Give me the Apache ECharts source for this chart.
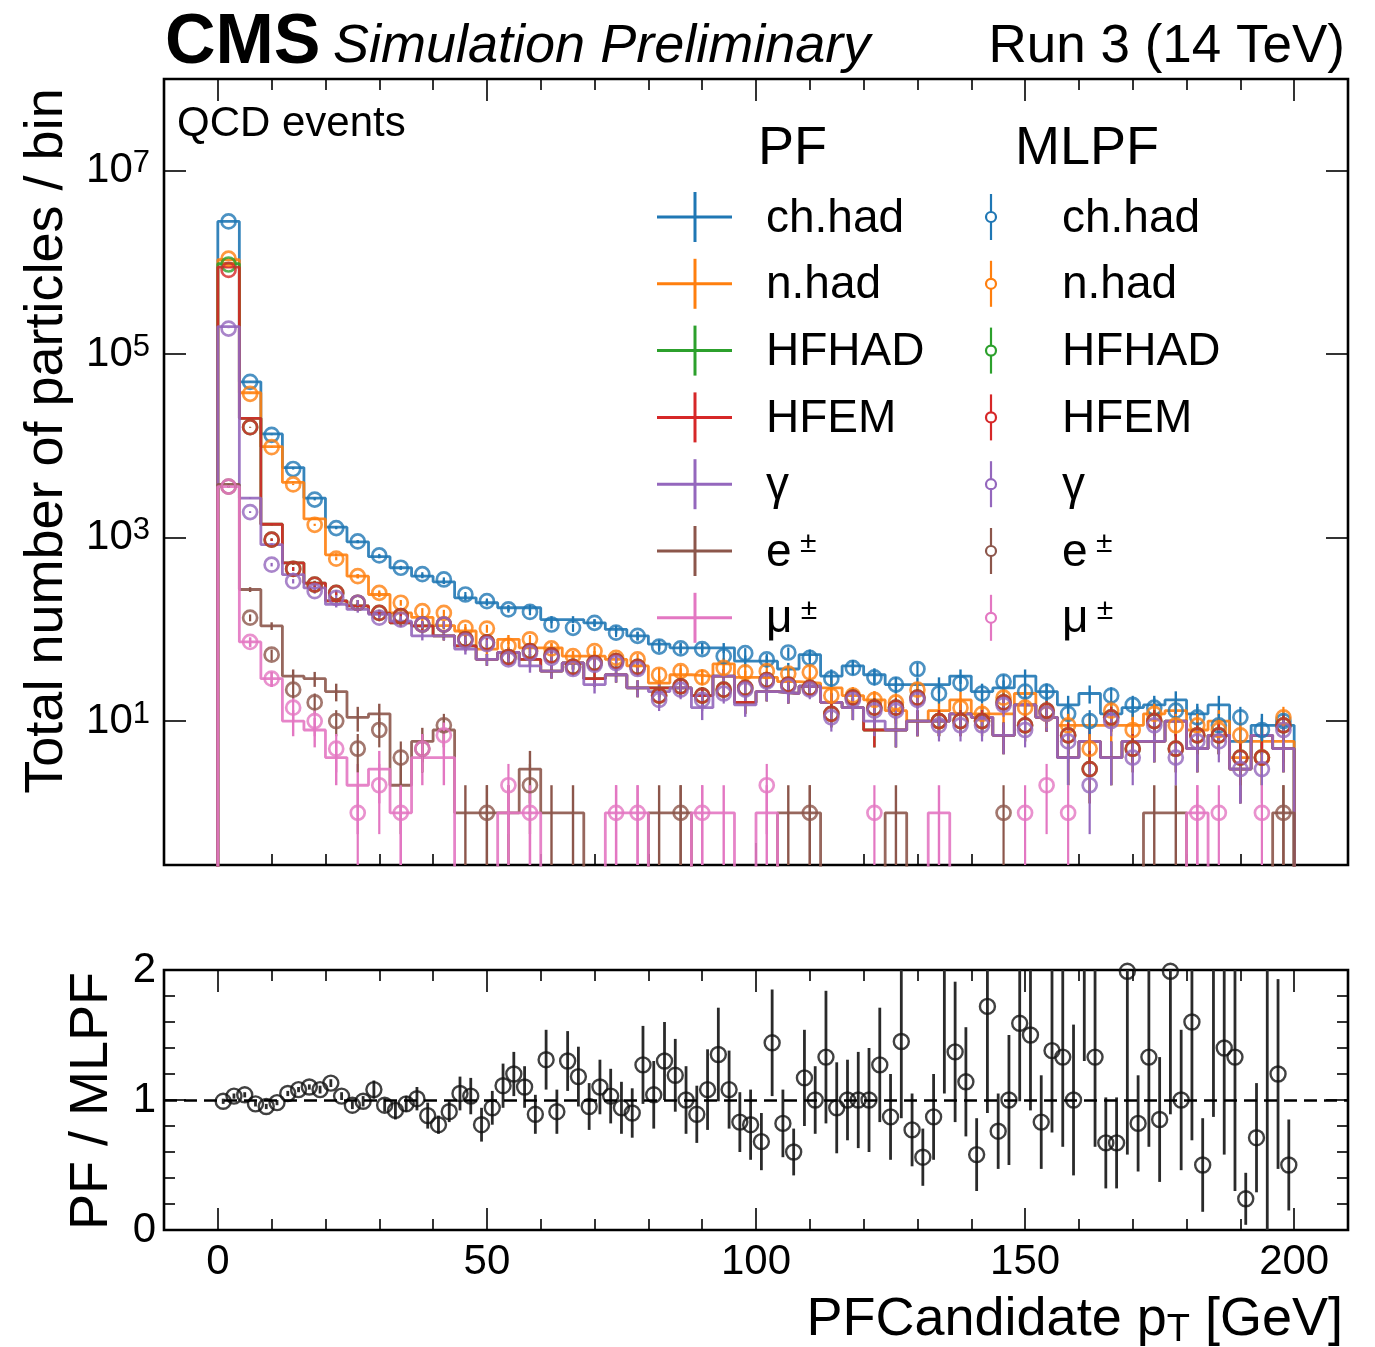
<!DOCTYPE html>
<html><head><meta charset="utf-8">
<script src="https://cdn.jsdelivr.net/npm/echarts@6/dist/echarts.min.js"></script>
<style>html,body{margin:0;padding:0;background:#fff}#c{width:1375px;height:1347px}</style>
</head><body><div id="c"></div>
<script>
// ---------------- data ----------------
const BIN_WIDTH = 4;
const binEdges = Array.from({length: 51}, (_, i) => i * BIN_WIDTH);
const binCenters = binEdges.slice(0, 50).map(e => e + BIN_WIDTH / 2);
const ratioCenters = Array.from({length: 100}, (_, k) => 2 * k + 1);

const speciesNames = ['ch.had', 'n.had', 'HFHAD', 'HFEM', 'γ', 'e±', 'μ±'];
const speciesColors = ['#1f77b4', '#ff7f0e', '#2ca02c', '#d62728', '#9467bd', '#8c564b', '#e377c2'];

// PF counts per 4 GeV bin
const pfChHad = [2.8e6, 5.0e4, 1.35e4, 5800, 2700, 1300, 900, 620, 470, 380,
  330, 221, 195, 172, 172, 128, 128, 118, 100, 85,
  69, 63, 63, 63, 45, 45, 37, 53, 31, 40,
  32, 25, 25, 25, 31, 21, 23, 31, 21, 15,
  20, 12, 14, 15, 17, 12, 15, 6, 9, 9];
const pfNHad = [1.07e6, 3.8e4, 9800, 4000, 1600, 650, 380, 240, 151, 135,
  110, 96, 61, 78, 63, 63, 51, 51, 47, 40,
  26, 32, 31, 42, 30, 30, 27, 26, 23, 19,
  17, 13, 10, 13, 17, 12, 12, 20, 11, 9,
  9, 9, 9, 12, 13, 8, 10, 4, 6, 6];
const pfHfHad = [9.7e5, 2.0e4, 1400, 530, 320, 205, 180, 150, 118, 109,
  85, 66, 47, 56, 47, 35, 43, 29, 32, 23,
  23, 23, 19, 31, 16, 21, 20, 24, 16, 14,
  8, 8, 10, 10, 12, 11, 7, 15, 11, 4,
  6, 4, 6, 6, 10, 5, 7, 3, 7, 5];
const pfHfEm = [8.9e5, 2.0e4, 1400, 530, 320, 205, 180, 150, 118, 109,
  85, 66, 47, 56, 47, 35, 43, 29, 32, 23,
  23, 23, 19, 31, 16, 21, 20, 24, 16, 14,
  8, 8, 10, 10, 12, 11, 7, 15, 11, 4,
  6, 4, 6, 6, 10, 5, 7, 3, 7, 5];
const pfGamma = [2.0e5, 2700, 840, 395, 283, 187, 165, 146, 123, 85,
  85, 61, 47, 56, 40, 35, 43, 25, 32, 23,
  21, 23, 14, 31, 15, 21, 20, 24, 16, 14,
  10, 8, 10, 10, 12, 11, 7, 15, 11, 4,
  6, 4, 6, 6, 10, 5, 7, 3, 7, 5];
const pfEle = [3800, 272, 109, 31, 29, 21, 11, 12, 2, 6,
  8, 1, 1, 1, 3, 1, 1, 0, 0, 0,
  1, 1, 0, 0, 0, 0, 1, 1, 0, 0,
  0, 1, 0, 0, 0, 0, 0, 0, 0, 0,
  0, 0, 0, 1, 1, 0, 0, 0, 0, 1];
const pfMuon = [3600, 73, 29, 10, 8, 4, 2, 3, 1, 4,
  4, 0, 0, 1, 1, 0, 0, 0, 1, 1,
  0, 0, 1, 1, 0, 1, 0, 0, 0, 0,
  0, 0, 0, 1, 0, 0, 0, 0, 0, 0,
  0, 0, 0, 0, 0, 1, 0, 0, 0, 0];

// MLPF counts per 4 GeV bin
const mlChHad = [2.8e6, 5.0e4, 1.32e4, 5600, 2600, 1270, 910, 640, 470, 400,
  350, 240, 203, 165, 155, 113, 104, 118, 92, 85,
  65, 62, 61, 51, 55, 47, 56, 49, 29, 38,
  30, 25, 37, 20, 26, 20, 27, 21, 21, 12,
  10, 19, 15, 14, 13, 11, 9, 11, 8, 10];
const mlNHad = [1.1e6, 3.7e4, 9700, 3800, 1380, 590, 380, 250, 195, 158,
  151, 104, 102, 66, 78, 62, 51, 58, 49, 47,
  32, 35, 30, 38, 34, 35, 33, 34, 19, 19,
  17, 16, 22, 10, 14, 12, 18, 14, 12, 9,
  5, 13, 8, 12, 9, 9, 8, 7, 4, 11];
const mlHfHad = [9.5e5, 1.6e4, 950, 456, 308, 250, 195, 151, 140, 113,
  113, 78, 72, 50, 58, 52, 39, 43, 45, 39,
  19, 24, 19, 22, 23, 28, 25, 23, 12, 18,
  14, 14, 18, 10, 10, 10, 16, 9, 13, 7,
  3, 11, 5, 10, 5, 7, 7, 4, 4, 9];
const mlHfEm = [8.3e5, 1.6e4, 950, 456, 308, 250, 195, 151, 140, 113,
  113, 78, 72, 50, 58, 52, 39, 43, 45, 39,
  19, 24, 19, 22, 23, 28, 25, 23, 12, 18,
  14, 14, 18, 10, 10, 10, 16, 9, 13, 7,
  3, 11, 5, 10, 5, 7, 7, 4, 4, 9];
const mlGamma = [1.9e5, 1900, 508, 335, 261, 221, 195, 134, 128, 113,
  113, 75, 69, 47, 55, 49, 37, 41, 43, 37,
  17, 22, 17, 20, 22, 27, 24, 22, 11, 17,
  13, 13, 17, 9, 9, 9, 15, 8, 12, 6,
  2, 10, 4, 9, 4, 6, 6, 3, 3, 8];
const mlEle = [3600, 134, 53, 22, 16, 10, 5, 8, 4, 5,
  9, 0, 1, 0, 2, 0, 0, 0, 0, 0,
  0, 1, 0, 0, 0, 0, 0, 1, 0, 0,
  0, 0, 0, 0, 0, 0, 1, 0, 0, 0,
  0, 0, 0, 0, 0, 0, 0, 0, 0, 1];
const mlMuon = [3600, 73, 29, 14, 10, 5, 1, 2, 1, 5,
  7, 0, 0, 2, 1, 0, 0, 0, 1, 1,
  0, 0, 1, 0, 0, 2, 0, 0, 0, 0,
  1, 0, 0, 0, 0, 0, 0, 1, 2, 1,
  0, 0, 0, 0, 0, 1, 1, 0, 1, 0];

// PF / MLPF ratio per 2 GeV bin
const ratioValues = [0.99, 1.03, 1.04, 0.97, 0.95, 0.98, 1.05, 1.08, 1.10, 1.08,
  1.13, 1.03, 0.96, 0.99, 1.08, 0.96, 0.92, 0.97, 1.01, 0.88,
  0.81, 0.91, 1.05, 1.03, 0.81, 0.94, 1.11, 1.20, 1.10, 0.89,
  1.31, 0.91, 1.30, 1.18, 0.95, 1.10, 1.03, 0.94, 0.90, 1.27,
  1.04, 1.30, 1.19, 1.00, 0.89, 1.08, 1.35, 1.08, 0.83, 0.81,
  0.68, 1.44, 0.82, 0.60, 1.17, 1.00, 1.33, 0.94, 1.00, 1.00,
  1.00, 1.27, 0.87, 1.45, 0.77, 0.56, 0.87, 2.60, 1.37, 1.14,
  0.58, 1.72, 0.76, 1.00, 1.59, 1.50, 0.83, 1.38, 1.33, 1.00,
  2.50, 1.33, 0.67, 0.67, 1.99, 0.82, 1.33, 0.85, 1.99, 1.00,
  1.60, 0.50, 2.30, 1.40, 1.33, 0.24, 0.71, 3.00, 1.20, 0.50];
const ratioErrors = [0.02, 0.02, 0.02, 0.02, 0.02, 0.02, 0.02, 0.02, 0.02, 0.03,
  0.03, 0.03, 0.03, 0.04, 0.07, 0.05, 0.07, 0.06, 0.09, 0.10,
  0.07, 0.08, 0.13, 0.14, 0.13, 0.13, 0.17, 0.17, 0.16, 0.15,
  0.23, 0.17, 0.23, 0.23, 0.18, 0.21, 0.21, 0.20, 0.19, 0.30,
  0.26, 0.30, 0.28, 0.26, 0.22, 0.31, 0.36, 0.30, 0.23, 0.27,
  0.22, 0.41, 0.26, 0.18, 0.37, 0.26, 0.51, 0.35, 0.31, 0.37,
  0.40, 0.44, 0.33, 0.59, 0.28, 0.22, 0.33, 1.55, 0.54, 0.42,
  0.28, 0.82, 0.29, 0.50, 0.60, 0.58, 0.36, 0.63, 0.69, 0.58,
  1.20, 0.69, 0.35, 0.35, 1.41, 0.37, 0.69, 0.48, 1.10, 0.54,
  0.91, 0.36, 1.43, 0.82, 1.03, 0.20, 0.42, 3.20, 0.73, 0.35];

// tick values
const xMajorTicks = [0, 50, 100, 150, 200];
const xMinorTicks = [10, 20, 30, 40, 60, 70, 80, 90, 110, 120, 130, 140, 160, 170, 180, 190];
const yMainTicks = [10, 1e3, 1e5, 1e7];
const yRatioMajor = [0, 1, 2];
const yRatioMinor = [0.2, 0.4, 0.6, 0.8, 1.2, 1.4, 1.6, 1.8];

// ---------------- chart ----------------
const FONT = '"Liberation Sans", Arial, Helvetica, sans-serif';
const FLOOR = 0.01;
const pfSets = [pfChHad, pfNHad, pfHfHad, pfHfEm, pfGamma, pfEle, pfMuon];
const mlSets = [mlChHad, mlNHad, mlHfHad, mlHfEm, mlGamma, mlEle, mlMuon];

function stepData(vals) {
  const pts = [[binEdges[0], FLOOR]];
  vals.forEach((v, i) => {
    const y = v > 0 ? v : FLOOR;
    pts.push([binEdges[i], y], [binEdges[i + 1], y]);
  });
  pts.push([binEdges[binEdges.length - 1], FLOOR]);
  return pts;
}
function errData(vals) {
  const out = [];
  vals.forEach((v, i) => {
    if (v > 0) { const e = Math.sqrt(v); out.push([binCenters[i], Math.max(v - e, FLOOR), v + e]); }
  });
  return out;
}
function makeErrRender(color, width) {
  return function (params, api) {
    const x = api.value(0);
    const a = api.coord([x, api.value(1)]);
    const b = api.coord([x, api.value(2)]);
    const cs = params.coordSys;
    const clamp = y => Math.min(Math.max(y, cs.y), cs.y + cs.height);
    return {type: 'line', shape: {x1: a[0], y1: clamp(a[1]), x2: b[0], y2: clamp(b[1])},
      style: {stroke: color, lineWidth: width}};
  };
}

const tickStyle = {color: '#000', width: 1.6};
function xAx(grid, pos, ticks, len, labels) {
  return {type: 'value', gridIndex: grid, position: pos, min: -10, max: 210,
    axisLine: {show: false, onZero: false},
    axisTick: {show: true, inside: true, length: len, customValues: ticks, lineStyle: tickStyle},
    axisLabel: labels ? {show: true, customValues: labels, fontSize: 42, fontFamily: FONT, color: '#000', margin: 11} : {show: false},
    splitLine: {show: false}, axisPointer: {show: false}};
}
function yLog(pos, labels) {
  return {type: 'log', logBase: 10, gridIndex: 0, position: pos, min: 0.27, max: 1e8,
    axisLine: {show: false, onZero: false},
    axisTick: {show: true, inside: true, length: 22, customValues: yMainTicks, lineStyle: tickStyle},
    axisLabel: labels ? {show: true, customValues: yMainTicks, margin: 14,
      formatter: v => '{b|10}{s|' + Math.round(Math.log10(v)) + '}',
      rich: {b: {fontSize: 42, fontFamily: FONT, color: '#000', lineHeight: 45},
             s: {fontSize: 31, fontFamily: FONT, color: '#000', lineHeight: 31, verticalAlign: 'top'}}} : {show: false},
    splitLine: {show: false}};
}
function yRat(pos, ticks, len, labels) {
  return {type: 'value', gridIndex: 1, position: pos, min: 0, max: 2,
    axisLine: {show: false, onZero: false},
    axisTick: {show: true, inside: true, length: len, customValues: ticks, lineStyle: tickStyle},
    axisLabel: labels ? {show: true, customValues: labels, fontSize: 42, fontFamily: FONT, color: '#000', margin: 8} : {show: false},
    splitLine: {show: false}};
}

const series = [];
pfSets.forEach((vals, s) => {
  const c = speciesColors[s];
  series.push({type: 'line', name: 'PF ' + speciesNames[s], xAxisIndex: 0, yAxisIndex: 0,
    data: stepData(vals), symbol: 'none', showSymbol: false, clip: true, silent: true,
    lineStyle: {color: c, width: 2.8, opacity: 0.9}, z: 2});
  series.push({type: 'custom', xAxisIndex: 0, yAxisIndex: 0, data: errData(vals),
    encode: {x: 0, y: [1, 2]}, renderItem: makeErrRender(c, 2.4), silent: true, z: 2});
});
mlSets.forEach((vals, s) => {
  const c = speciesColors[s];
  series.push({type: 'custom', xAxisIndex: 0, yAxisIndex: 0, data: errData(vals),
    encode: {x: 0, y: [1, 2]}, renderItem: makeErrRender(c, 2.2), silent: true, z: 3});
  const pts = [];
  vals.forEach((v, i) => { if (v > 0) pts.push([binCenters[i], v]); });
  series.push({type: 'scatter', name: 'MLPF ' + speciesNames[s], xAxisIndex: 0, yAxisIndex: 0,
    data: pts, symbol: 'circle', symbolSize: 14, silent: true, clip: true,
    itemStyle: {color: 'rgba(255,255,255,0)', borderColor: c, borderWidth: 2.7}, z: 3});
});
series.push({type: 'custom', xAxisIndex: 4, yAxisIndex: 2,
  data: ratioCenters.map((x, k) => [x, ratioValues[k] - ratioErrors[k], ratioValues[k] + ratioErrors[k]]),
  encode: {x: 0, y: [1, 2]}, renderItem: makeErrRender('#2a2a2a', 2.8), silent: true, z: 3});
series.push({type: 'scatter', xAxisIndex: 4, yAxisIndex: 2,
  data: ratioCenters.map((x, k) => [x, ratioValues[k]]), symbol: 'circle', symbolSize: 15, clip: true, silent: true,
  itemStyle: {color: 'rgba(255,255,255,0)', borderColor: '#111', borderWidth: 2.4}, z: 4,
  markLine: {silent: true, symbol: ['none', 'none'], label: {show: false},
    lineStyle: {color: '#000', width: 2.6, type: [13, 7]}, data: [{yAxis: 1}], animation: false}});

// legend + annotations (graphic)
const graphic = [];
function txt(x, y, text, size, opts) {
  opts = opts || {};
  graphic.push({type: 'text', x: x, y: y, rotation: opts.rotation || 0, z: 100,
    style: {text: text, fill: '#000', font: (opts.weight || '') + ' ' + (opts.italic ? 'italic ' : '') + size + 'px ' + FONT,
      fontSize: size, fontFamily: FONT, fontWeight: opts.weight || 'normal', fontStyle: opts.italic ? 'italic' : 'normal',
      textAlign: opts.align || 'left', align: opts.align || 'left',
      textVerticalAlign: 'middle', verticalAlign: 'middle', rich: opts.rich}});
}
txt(165, 44, 'CMS', 70, {weight: 'bold'});
txt(333, 47, 'Simulation Preliminary', 54, {italic: true});
txt(1345, 47, 'Run 3 (14 TeV)', 53, {align: 'right'});
txt(177, 124, 'QCD events', 42);
txt(47, 441, 'Total number of particles / bin', 54, {align: 'center', rotation: Math.PI / 2});
txt(92, 1101, 'PF / MLPF', 54, {align: 'center', rotation: Math.PI / 2});
txt(1343, 1320, '{a|PFCandidate p}{t|T}{a| [GeV]}', 54, {align: 'right',
  rich: {a: {fontSize: 54, fontFamily: FONT, lineHeight: 60},
         t: {fontSize: 38, fontFamily: FONT, lineHeight: 38, verticalAlign: 'bottom'}}});

txt(758, 149, 'PF', 54);
txt(1015, 149, 'MLPF', 54);
const legendRich = {a: {fontSize: 46, fontFamily: FONT, lineHeight: 48}, s: {fontSize: 30, fontFamily: FONT, lineHeight: 30, verticalAlign: 'top'}};
function legLabel(name) {
  if (name === 'e±') return '{a|e}{s| ±}';
  if (name === 'μ±') return '{a|μ}{s| ±}';
  return '{a|' + name + '}';
}
speciesNames.forEach((name, i) => {
  const y = 217 + 66.8 * i;
  const c = speciesColors[i];
  graphic.push({type: 'line', z: 100, shape: {x1: 657, y1: y, x2: 732, y2: y}, style: {stroke: c, lineWidth: 3}});
  graphic.push({type: 'line', z: 100, shape: {x1: 695, y1: y - 25, x2: 695, y2: y + 25}, style: {stroke: c, lineWidth: 3}});
  graphic.push({type: 'line', z: 100, shape: {x1: 991, y1: y - 23, x2: 991, y2: y + 23}, style: {stroke: c, lineWidth: 2.2}});
  graphic.push({type: 'circle', z: 101, shape: {cx: 991, cy: y, r: 5}, style: {fill: '#fff', stroke: c, lineWidth: 2.2}});
  txt(766, y + 2, legLabel(name), 46, {rich: legendRich});
  txt(1062, y + 2, legLabel(name), 46, {rich: legendRich});
});

const option = {
  animation: false,
  backgroundColor: '#fff',
  grid: [
    {left: 164, top: 79, width: 1184, height: 786, show: true, borderColor: '#000', borderWidth: 2.6, backgroundColor: 'rgba(0,0,0,0)', containLabel: false, outerBoundsMode: 'none'},
    {left: 164, top: 970, width: 1184, height: 260, show: true, borderColor: '#000', borderWidth: 2.6, backgroundColor: 'rgba(0,0,0,0)', containLabel: false, outerBoundsMode: 'none'}
  ],
  xAxis: [
    xAx(0, 'bottom', xMajorTicks, 22, null),
    xAx(0, 'bottom', xMinorTicks, 11, null),
    xAx(0, 'top', xMajorTicks, 22, null),
    xAx(0, 'top', xMinorTicks, 11, null),
    xAx(1, 'bottom', xMajorTicks, 22, xMajorTicks),
    xAx(1, 'bottom', xMinorTicks, 11, null),
    xAx(1, 'top', xMajorTicks, 22, null),
    xAx(1, 'top', xMinorTicks, 11, null)
  ],
  yAxis: [
    yLog('left', true),
    yLog('right', false),
    yRat('left', yRatioMajor, 22, yRatioMajor),
    yRat('left', yRatioMinor, 11, null),
    yRat('right', yRatioMajor, 22, null),
    yRat('right', yRatioMinor, 11, null)
  ],
  series: series,
  graphic: graphic
};
const chart = echarts.init(document.getElementById('c'), null, {renderer: 'canvas'});
chart.setOption(option);
</script>
</body></html>
